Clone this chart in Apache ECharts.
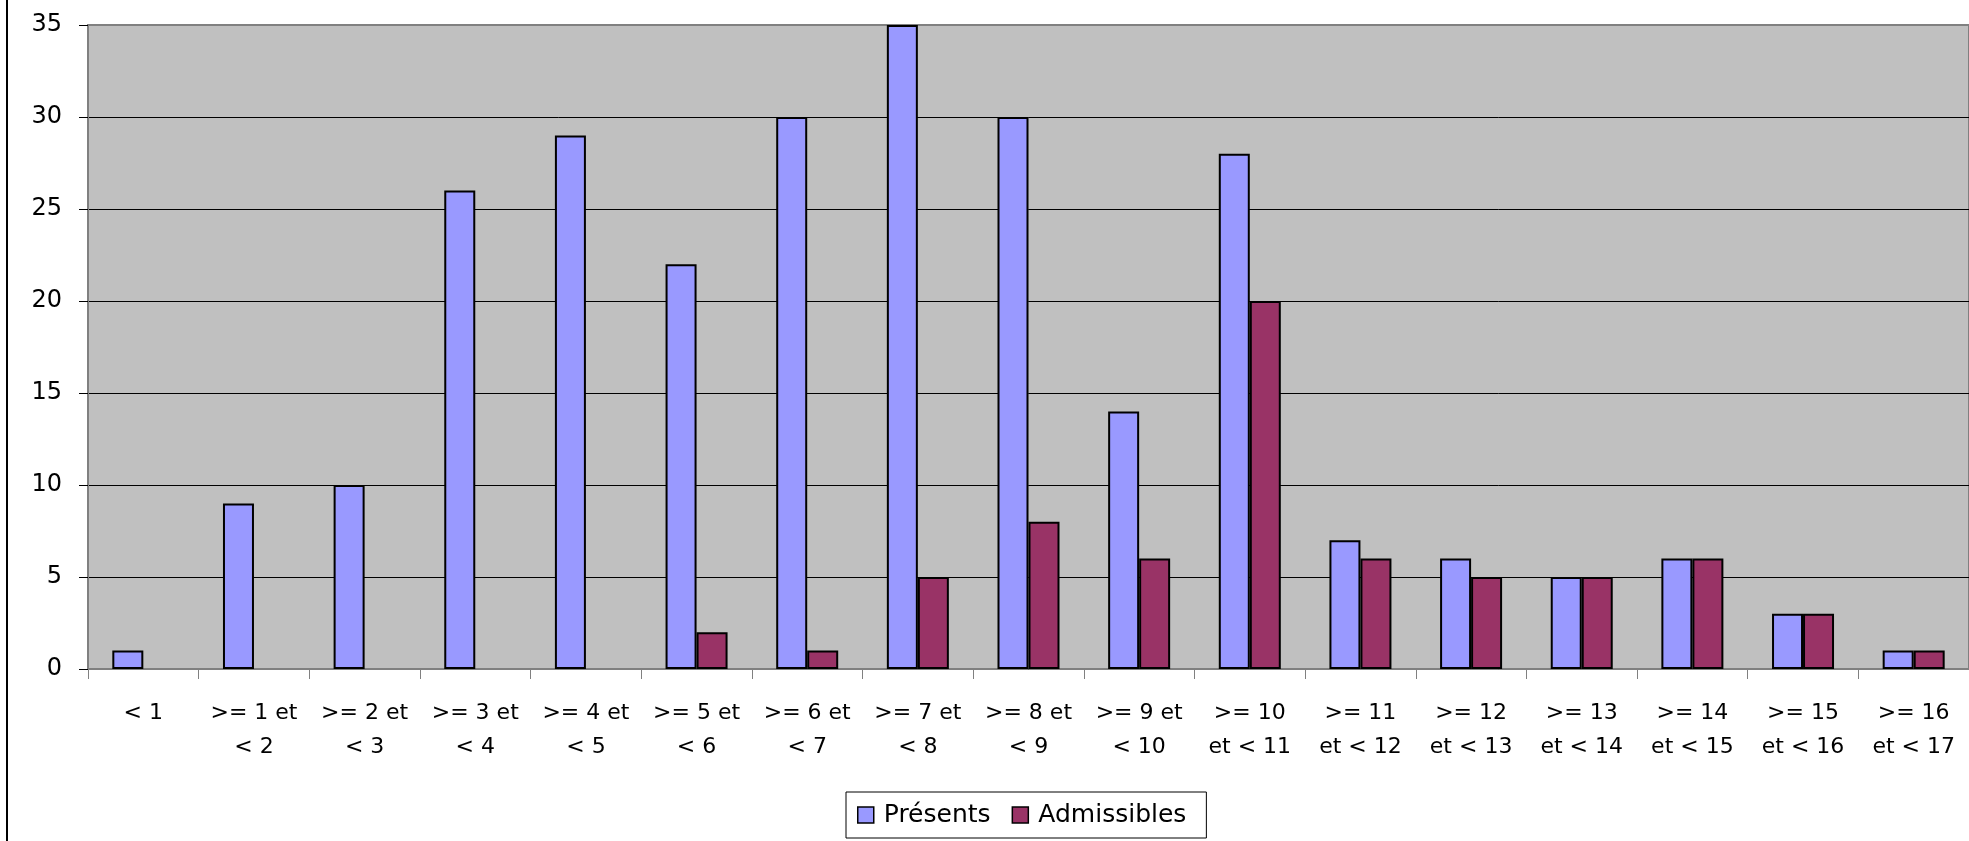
<!DOCTYPE html>
<html>
<head>
<meta charset="utf-8">
<script src="https://cdn.jsdelivr.net/npm/echarts@6/dist/echarts.min.js"></script>
<style>
  html, body { margin: 0; padding: 0; background: #fff; }
  #chart { width: 1969px; height: 841px; }
</style>
</head>
<body>
<div id="chart"></div>
<script>
// Score bands (notes) used as categories
const categories = [
  '< 1', '>= 1 et\n< 2', '>= 2 et\n< 3', '>= 3 et\n< 4', '>= 4 et\n< 5',
  '>= 5 et\n< 6', '>= 6 et\n< 7', '>= 7 et\n< 8', '>= 8 et\n< 9',
  '>= 9 et\n< 10', '>= 10\net < 11', '>= 11\net < 12', '>= 12\net < 13',
  '>= 13\net < 14', '>= 14\net < 15', '>= 15\net < 16', '>= 16\net < 17'
];
// Number of candidates present per band
const presents = [1, 9, 10, 26, 29, 22, 30, 35, 30, 14, 28, 7, 6, 5, 6, 3, 1];
// Number of admissible candidates per band
const admissibles = [0, 0, 0, 0, 0, 2, 1, 5, 8, 6, 20, 6, 5, 5, 6, 3, 1];
// Value axis ticks
const yTicks = [0, 5, 10, 15, 20, 25, 30, 35];

const FONT = '"DejaVu Sans", "Liberation Sans", Arial, sans-serif';
// Empty bands get no bar at all
const noZero = arr => arr.map(v => (v === 0 ? null : v));

const chart = echarts.init(document.getElementById('chart'), null, { renderer: 'canvas' });

chart.setOption({
  animation: false,
  backgroundColor: '#ffffff',
  textStyle: { fontFamily: FONT },
  grid: {
    left: 88, top: 25, right: -2, bottom: 172,
    show: true,
    backgroundColor: '#C0C0C0',
    borderColor: '#808080',
    borderWidth: 2
  },
  legend: {
    data: ['Présents', 'Admissibles'],
    left: 846, top: 792,
    padding: [10, 20, 10, 11],
    itemWidth: 16, itemHeight: 16,
    itemGap: 21,
    icon: 'rect',
    borderColor: '#000', borderWidth: 1,
    backgroundColor: '#fff',
    itemStyle: { borderColor: '#000', borderWidth: 1.5 },
    textStyle: { fontFamily: FONT, fontSize: 25, lineHeight: 26, color: '#000', padding: [0, 0, 0, 5] }
  },
  xAxis: {
    type: 'category',
    data: categories,
    axisLine: { lineStyle: { color: '#808080', width: 1 } },
    axisTick: { show: true, length: 10, lineStyle: { color: '#808080' } },
    axisLabel: {
      interval: 0, margin: 27,
      fontFamily: FONT, fontSize: 22, lineHeight: 34, color: '#000', align: 'center'
    }
  },
  yAxis: {
    type: 'value',
    min: yTicks[0], max: yTicks[yTicks.length - 1], interval: 5,
    axisLine: { show: true, lineStyle: { color: '#808080', width: 1 } },
    axisTick: { show: true, length: 9, lineStyle: { color: '#000' } },
    axisLabel: { margin: 26, fontFamily: FONT, fontSize: 24, color: '#000' },
    splitLine: {
      show: true,
      lineStyle: { color: ['#000', '#000', '#000', '#000', '#000', '#000', '#000', '#808080'], width: 1 }
    }
  },
  series: [
    {
      name: 'Présents', type: 'bar',
      data: noZero(presents),
      barWidth: 31, barGap: '0%',
      itemStyle: { color: '#9999FF', borderColor: '#000', borderWidth: 2 }
    },
    {
      name: 'Admissibles', type: 'bar',
      data: noZero(admissibles),
      barWidth: 31,
      itemStyle: { color: '#993366', borderColor: '#000', borderWidth: 2 }
    }
  ],
  graphic: [
    {
      type: 'line',
      shape: { x1: 7, y1: 0, x2: 7, y2: 841 },
      style: { stroke: '#000', lineWidth: 2 }
    }
  ]
});
</script>
</body>
</html>
